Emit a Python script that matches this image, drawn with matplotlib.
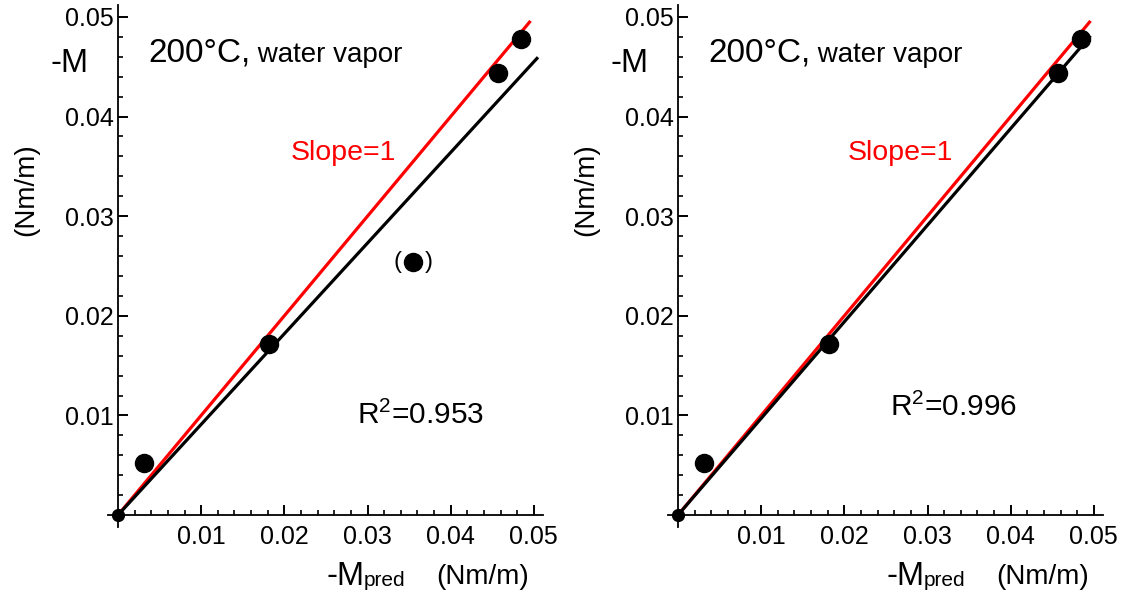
import matplotlib
matplotlib.use("Agg")
import matplotlib.pyplot as plt
from matplotlib.ticker import FixedLocator, MultipleLocator

plt.rcParams["font.family"] = ["Liberation Sans", "DejaVu Sans"]
plt.rcParams["mathtext.fontset"] = "custom"
plt.rcParams["mathtext.rm"] = "Liberation Sans"
plt.rcParams["mathtext.default"] = "regular"

m_pred = [0.0031, 0.0181, 0.0457, 0.0484]
m_meas = [0.0052, 0.0172, 0.0444, 0.0478]
# excluded point, shown in brackets on the left panel only
outlier_pred = 0.0355
outlier_meas = 0.0254

# fitted lines through the origin
fit_slope = [0.91, 0.97]
fit_end = [0.0505, 0.0496]
ref_end = 0.0496
r2 = ["0.953", "0.996"]
show_outlier = [True, False]

W, H = 1127, 597
ticks = [0.01, 0.02, 0.03, 0.04, 0.05]


def fx(x):
    return x / W


def fy(y):
    return 1 - y / H


fig = plt.figure(figsize=(W / 100, H / 100), dpi=100)


def panel(i):
    dx = 560 * i
    ax = fig.add_axes([fx(108 + dx), fy(527), (543 - 108) / W, (527 - 5) / H])
    ax.set_xlim(-0.0012, 0.0511)
    ax.set_ylim(-0.0012, 0.0512)
    for s in ("top", "right"):
        ax.spines[s].set_visible(False)
    for s in ("left", "bottom"):
        ax.spines[s].set_position(("data", 0))
        ax.spines[s].set_linewidth(1.3)
    ax.xaxis.set_major_locator(FixedLocator(ticks))
    ax.yaxis.set_major_locator(FixedLocator(ticks))
    ax.xaxis.set_minor_locator(MultipleLocator(0.002))
    ax.yaxis.set_minor_locator(MultipleLocator(0.002))
    ax.set_xticklabels(["%.2f" % t for t in ticks])
    ax.set_yticklabels(["%.2f" % t for t in ticks])
    ax.tick_params(which="major", direction="in", length=7.5, width=1.4,
                   labelsize=18)
    ax.tick_params(which="minor", direction="in", length=3.5, width=1.2)
    ax.tick_params(axis="x", which="major", pad=7)
    ax.tick_params(axis="y", which="major", pad=3)

    ax.plot([0, ref_end], [0, ref_end], color="#ff0000", lw=2.3,
            solid_capstyle="butt")
    ax.plot([0, fit_end[i]], [0, fit_slope[i] * fit_end[i]], color="black",
            lw=2.3, solid_capstyle="butt")
    ax.plot(m_pred, m_meas, "o", color="black", ms=13, zorder=5)
    ax.plot([0], [0], "o", color="black", ms=8.5, zorder=5, clip_on=False)
    if show_outlier[i]:
        ax.plot([outlier_pred], [outlier_meas], "o", color="black", ms=13,
                zorder=5)
        ax.annotate("(", (outlier_pred, outlier_meas), xytext=(-11, 0),
                    textcoords="offset points", ha="center", va="center",
                    fontsize=17)
        ax.annotate(")", (outlier_pred, outlier_meas), xytext=(11, 0),
                    textcoords="offset points", ha="center", va="center",
                    fontsize=17)

    # y label
    fig.text(fx(51 + dx), fy(64), "-M", fontsize=23.5, ha="left",
             va="center")
    fig.text(fx(26 + dx), fy(190), "(Nm/m)", fontsize=20, rotation=90,
             ha="center", va="center")

    # x label
    fig.text(fx(327 + dx), fy(585), "-M", fontsize=23.5, ha="left",
             va="baseline")
    fig.text(fx(364 + dx), fy(586), "pred", fontsize=15, ha="left",
             va="baseline")
    fig.text(fx(436 + dx), fy(577), "(Nm/m)", fontsize=20, ha="left",
             va="center")

    # title text
    t1 = fig.text(fx(148 + dx), fy(61), "200\u00b0C,", fontsize=24,
                  ha="left", va="baseline")
    ax.annotate(" water vapor", xy=(1, 0), xycoords=t1, fontsize=20,
                ha="left", va="bottom")

    fig.text(fx(291 + dx - 3 * i), fy(153), "Slope=1", fontsize=20.5,
             color="#ff0000", ha="left", va="center")
    rx = [357, 890][i]
    ry = [415, 407][i]
    fig.text(fx(rx), fy(ry), "R$^{2}$=" + r2[i], fontsize=21.5, ha="left",
             va="center")
    return ax


panel(0)
panel(1)

fig.savefig("out.png", dpi=100)
